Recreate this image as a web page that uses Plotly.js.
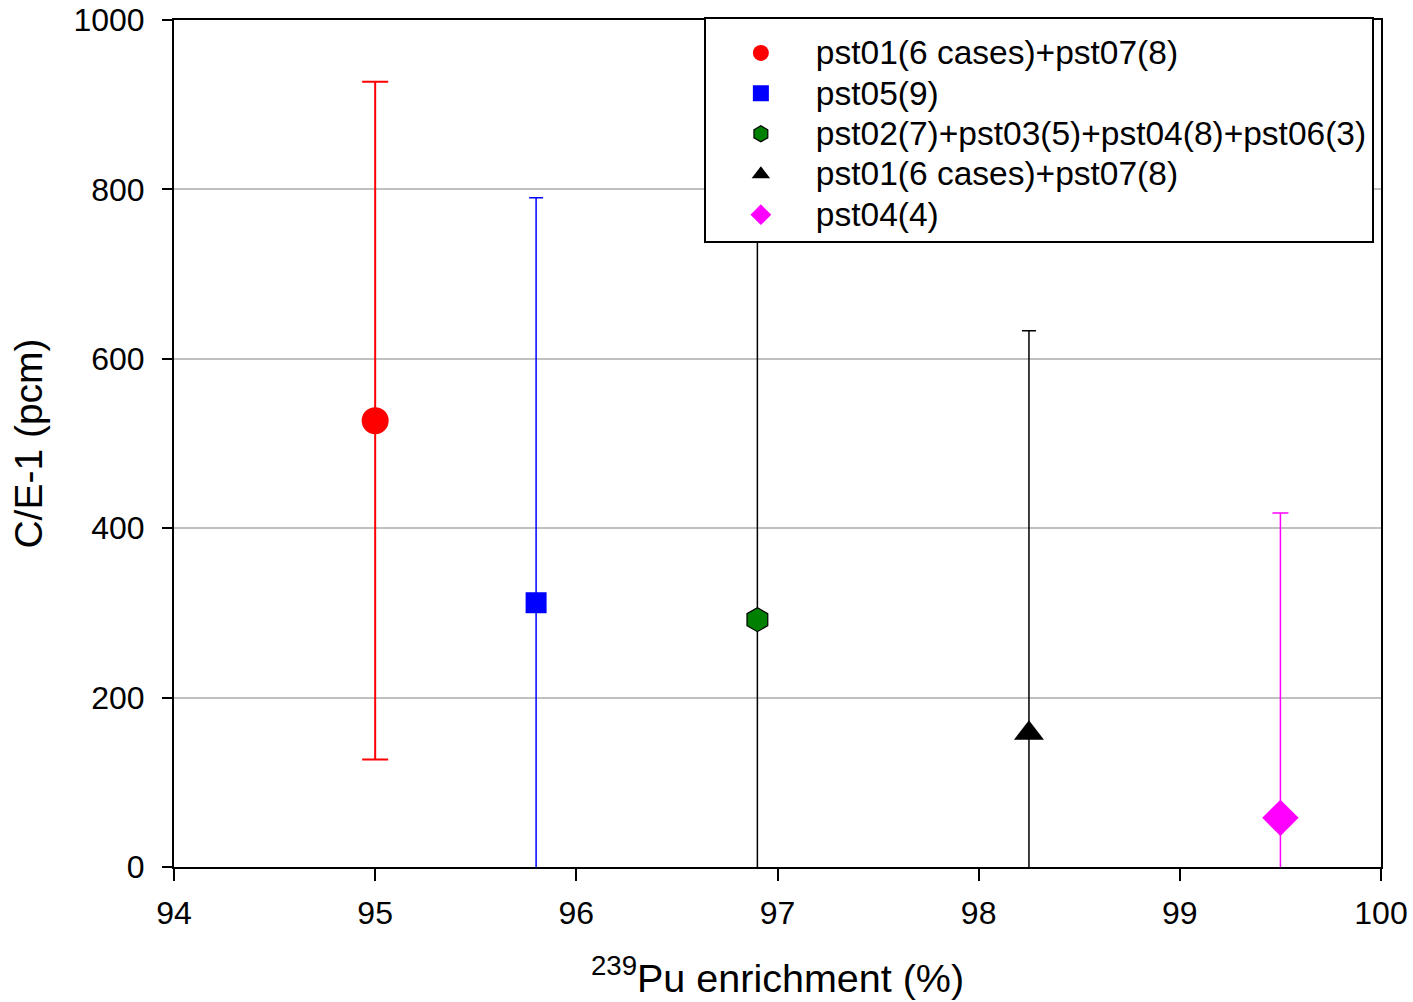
<!DOCTYPE html>
<html><head><meta charset="utf-8">
<script src="https://cdn.plot.ly/plotly-3.0.1.min.js"></script>
<style>body{margin:0;background:#fff}#chart{width:1413px;height:1002px}</style>
</head><body><div id="chart"></div>
<script>
const seriesNames = ["pst01(6 cases)+pst07(8)", "pst05(9)", "pst02(7)+pst03(5)+pst04(8)+pst06(3)", "pst01(6 cases)+pst07(8)", "pst04(4)"];
const enrichment = [95.0, 95.8, 96.9, 98.25, 99.5];
const ceMinus1 = [527, 312, 292, 158, 58];
const errors = [400, 478, 600, 475, 360];
const colors = ["#ff0000", "#0000ff", "#008000", "#000000", "#ff00ff"];
const symbols = ["circle", "square", "hexagon", "triangle-up", "diamond"];
const sizes = [27, 21, 24, 26, 28];
const capWidths = [13, 7, 7, 7, 8];
const barThick = [2, 1.5, 1.5, 1.5, 1.5];

const traces = seriesNames.map((n, i) => ({
  type: "scatter", mode: "markers",
  name: '<span style="font-size:33.5px">' + n + '</span>',
  x: [enrichment[i]], y: [ceMinus1[i]],
  marker: {symbol: symbols[i], size: sizes[i], color: colors[i],
    line: {color: i === 2 ? "#000" : colors[i], width: i === 2 ? 1.2 : 0}},
  error_y: {type: "data", array: [errors[i]], visible: true, color: i === 2 ? "#000" : colors[i],
    thickness: barThick[i], width: capWidths[i]}
}));

const layout = {
  width: 1413, height: 1002,
  margin: {l: 174, r: 32, t: 20, b: 135},
  paper_bgcolor: "#fff", plot_bgcolor: "#fff",
  font: {family: "Liberation Sans, Arial, sans-serif", color: "#000"},
  showlegend: true,
  legend: {x: 0.439, y: 1.004, xanchor: "left", yanchor: "top",
    bgcolor: "#fff", bordercolor: "#000", borderwidth: 2,
    font: {size: 28.8, family: "Liberation Sans, Arial, sans-serif"},
    title: {text: " ", font: {size: 7}},
    tracegroupgap: 0, itemwidth: 100},
  xaxis: {range: [94, 100], dtick: 1, tick0: 94, showgrid: false, zeroline: false,
    showline: true, linecolor: "#000", linewidth: 2, mirror: true,
    ticks: "outside", ticklen: 12, tickwidth: 2, tickcolor: "#000",
    tickfont: {size: 32}, ticklabelstandoff: 5,
    title: {text: "<sup>239</sup>Pu enrichment (%)", font: {size: 39.5}, standoff: 34}},
  yaxis: {range: [0, 1000], dtick: 200, showgrid: true, gridcolor: "#c0c0c0", gridwidth: 1.5,
    zeroline: false, showline: true, linecolor: "#000", linewidth: 2, mirror: true,
    ticks: "outside", ticklen: 10, tickwidth: 2, tickcolor: "#000",
    tickfont: {size: 32}, ticklabelstandoff: 11,
    title: {text: "C/E-1 (pcm)", font: {size: 39}, standoff: 19}}
};
Plotly.newPlot("chart", traces, layout, {displayModeBar: false});
</script></body></html>
